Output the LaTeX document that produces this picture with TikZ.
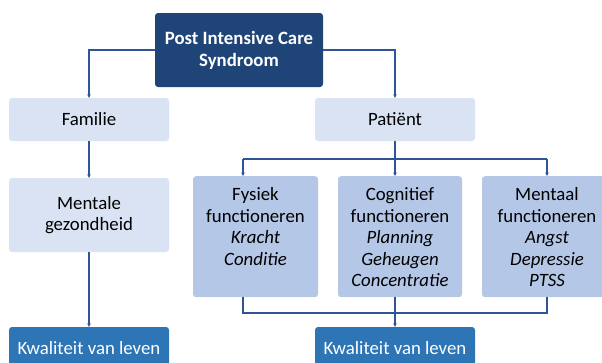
\documentclass[tikz,border=0pt]{standalone}
\usepackage{fontspec}
\setmainfont{Carlito}
\usetikzlibrary{arrows.meta,calc}
\definecolor{darkbox}{HTML}{1F4478}
\definecolor{lightbox}{HTML}{DAE3F3}
\definecolor{midbox}{HTML}{B4C7E7}
\definecolor{qolbox}{HTML}{2E75B6}
\definecolor{linec}{HTML}{2F5597}
\begin{document}
\begin{tikzpicture}[x=1pt,y=-1pt,
  box/.style={rounded corners=3pt, inner sep=0pt, align=center,
    font=\fontsize{18.8}{21.5}\selectfont, text=black},
  topbox/.style={box, fill=darkbox, text=white,
    font=\fontsize{18.8}{22}\selectfont\bfseries, minimum width=168pt, minimum height=74pt},
  lightnode/.style={box, fill=lightbox, minimum width=160pt},
  funcbox/.style={box, fill=midbox, anchor=north},
  qol/.style={box, fill=qolbox, text=white, minimum width=160pt, minimum height=42pt},
  conn/.style={draw=linec, line width=1.1pt},
  arr/.style={conn, -{Stealth[length=3.5pt,width=3.5pt]}}]
\useasboundingbox (0,0) rectangle (602,362);
\clip (0,0) rectangle (602,362);
\node[topbox] (pics) at (239,50) {Post Intensive Care\\Syndroom};
\node[lightnode, minimum height=43pt] (fam) at (89,119.5) {Familie};
\node[lightnode, minimum height=43pt] (pat) at (395,119.5) {Patiënt};
\node[lightnode, minimum height=74pt] (men) at (89,215) {Mentale\\gezondheid};
\node[funcbox, minimum width=125pt, text height=89pt, text depth=32pt] (fys) at (255.5,176)
  {Fysiek\\functioneren\\\textit{Kracht}\\\textit{Conditie}};
\node[funcbox, minimum width=124pt, text height=110.5pt, text depth=10.5pt] (cog) at (400,176)
  {Cognitief\\functioneren\\\textit{Planning}\\\textit{Geheugen}\\\textit{Concentratie}};
\node[funcbox, minimum width=130pt, text height=110.5pt, text depth=10.5pt] (mtl) at (547,176)
  {Mentaal\\functioneren\\\textit{Angst}\\\textit{Depressie}\\\textit{PTSS}};
\node[qol] (kwl) at (89,348) {Kwaliteit van leven};
\node[qol] (kwr) at (395,348) {Kwaliteit van leven};
\coordinate (tL) at (243,159);
\coordinate (tR) at (547,159);
\coordinate (bL) at (243,313);
\coordinate (bR) at (547,313);
\draw[arr] (pics.west) -| (fam.north);
\draw[arr] (pics.east) -| (pat.north);
\draw[arr] (fam) -- (men);
\draw[arr] (men) -- (kwl);
\draw[conn] (tL) -- (tR);
\draw[arr] (pat.south) -- (pat.south |- cog.north);
\draw[arr] (tL) -- (tL |- fys.north);
\draw[arr] (tR) -- (tR |- mtl.north);
\draw[conn] (bL |- fys.south) -- (bL) -- (bR) -- (bR |- mtl.south);
\draw[arr] (pat.south |- cog.south) -- (kwr.north);
\end{tikzpicture}
\end{document}
